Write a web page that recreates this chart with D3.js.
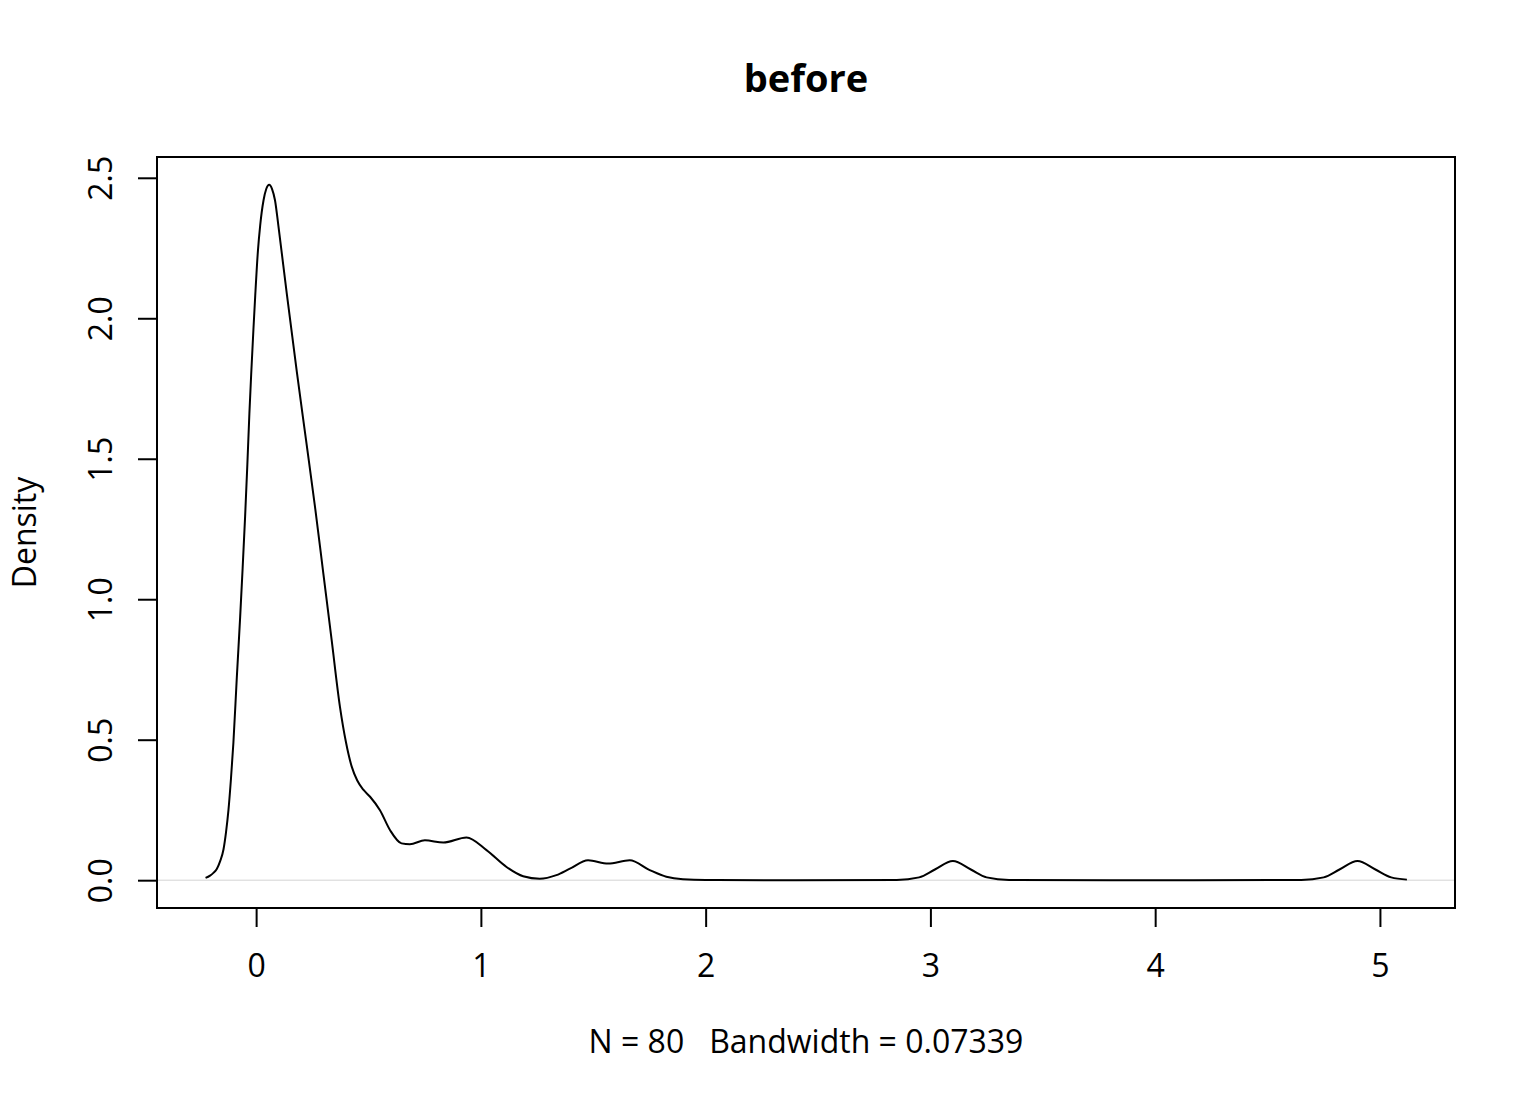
<!DOCTYPE html>
<html>
<head>
<meta charset="utf-8">
<script src="https://cdn.jsdelivr.net/npm/d3@7"></script>
<style>
html,body{margin:0;padding:0;background:#fff;}
svg{display:block;}
text{font-family:"Open Sans","Noto Sans",sans-serif;fill:#000;white-space:pre;}
</style>
</head>
<body>
<svg id="chart" width="1536" height="1104"></svg>
<script>
// Density curve points (x value, density)
const densX = [-0.225,-0.205,-0.190,-0.175,-0.160,-0.145,-0.134,-0.123,-0.112,-0.101,-0.086,-0.071,-0.060,-0.049,-0.039,-0.030,-0.022,-0.012,-0.004,0.008,0.018,0.033,0.045,0.058,0.071,0.084,0.099,0.136,0.181,0.222,0.262,0.299,0.336,0.373,0.400,0.425,0.450,0.477,0.507,0.551,0.596,0.647,0.684,0.751,0.833,0.936,1.025,1.114,1.188,1.262,1.336,1.396,1.477,1.566,1.662,1.751,1.825,1.899,2.000,2.400,2.850,2.950,3.020,3.100,3.180,3.250,3.350,3.800,4.650,4.750,4.820,4.900,4.980,5.050,5.120];
const densY = [0.008,0.016,0.026,0.040,0.068,0.110,0.170,0.250,0.360,0.490,0.720,0.937,1.110,1.294,1.480,1.660,1.800,1.960,2.080,2.240,2.330,2.420,2.460,2.475,2.460,2.420,2.330,2.090,1.810,1.567,1.329,1.092,0.855,0.617,0.490,0.405,0.355,0.322,0.297,0.249,0.178,0.131,0.128,0.142,0.134,0.152,0.107,0.047,0.014,0.005,0.018,0.041,0.071,0.059,0.071,0.036,0.012,0.003,0.0005,0.0,0.001,0.010,0.038,0.068,0.038,0.010,0.001,0.0,0.001,0.010,0.038,0.068,0.038,0.010,0.002];
const xTicks = [0,1,2,3,4,5];
const yTicks = [0.0,0.5,1.0,1.5,2.0,2.5];
const yTickLabels = ["0.0","0.5","1.0","1.5","2.0","2.5"];
const titleText = "before";
const xLabelText = "N = 80   Bandwidth = 0.07339";
const yLabelText = "Density";

const svg = d3.select("#chart");
const box = {left:157, right:1455, top:157, bottom:908};

const x = d3.scaleLinear().domain([-0.441, 5.334]).range([box.left, box.right]);
const y = d3.scaleLinear().domain([-0.099, 2.574]).range([box.bottom, box.top]);

const data = densX.map((d,i)=>({x:d, y:densY[i]}));

// zero line
svg.append("line")
  .attr("x1", box.left).attr("x2", box.right)
  .attr("y1", y(0)).attr("y2", y(0))
  .attr("stroke", "#d3d3d3").attr("stroke-width", 1);

// curve
const line = d3.line().x(d=>x(d.x)).y(d=>y(d.y)).curve(d3.curveMonotoneX);
svg.append("path").datum(data)
  .attr("d", line)
  .attr("fill","none").attr("stroke","#000").attr("stroke-width",2);

// box
svg.append("rect")
  .attr("x", box.left).attr("y", box.top)
  .attr("width", box.right-box.left).attr("height", box.bottom-box.top)
  .attr("fill","none").attr("stroke","#000").attr("stroke-width",2);

// x axis
const xAxis = d3.axisBottom(x).tickValues(xTicks).tickSize(19).tickFormat(d3.format("d"));
const gx = svg.append("g").attr("transform", `translate(0,${box.bottom})`).call(xAxis);
gx.select(".domain").attr("d", `M${x(0)},0H${x(5)}`).attr("stroke-width",2);
gx.selectAll(".tick line").attr("stroke-width",2);
gx.selectAll(".tick text").attr("font-size",32).attr("font-family",'"Open Sans"').attr("dy",null).attr("y",69);

// y axis
const yAxis = d3.axisLeft(y).tickValues(yTicks).tickSize(19).tickFormat((d,i)=>yTickLabels[i]);
const gy = svg.append("g").attr("transform", `translate(${box.left},0)`).call(yAxis);
gy.select(".domain").attr("d", `M0,${y(0)}V${y(2.5)}`).attr("stroke-width",2);
gy.selectAll(".tick line").attr("stroke-width",2);
gy.selectAll(".tick text")
  .attr("font-size",32).attr("font-family",'"Open Sans"')
  .attr("x",null).attr("dy",null)
  .attr("transform","translate(-45,0) rotate(-90)")
  .attr("text-anchor","middle").attr("y",0);

// title
svg.append("text").attr("x", (box.left+box.right)/2).attr("y", 92)
  .attr("text-anchor","middle").attr("font-size",38).attr("font-weight","bold")
  .text(titleText);

// x label
svg.append("text").attr("x", (box.left+box.right)/2).attr("y", 1053)
  .attr("text-anchor","middle").attr("font-size",32)
  .attr("xml:space","preserve")
  .text(xLabelText);

// y label
svg.append("text").attr("transform", `translate(36,${(box.top+box.bottom)/2}) rotate(-90)`)
  .attr("text-anchor","middle").attr("font-size",32)
  .text(yLabelText);
</script>
</body>
</html>
